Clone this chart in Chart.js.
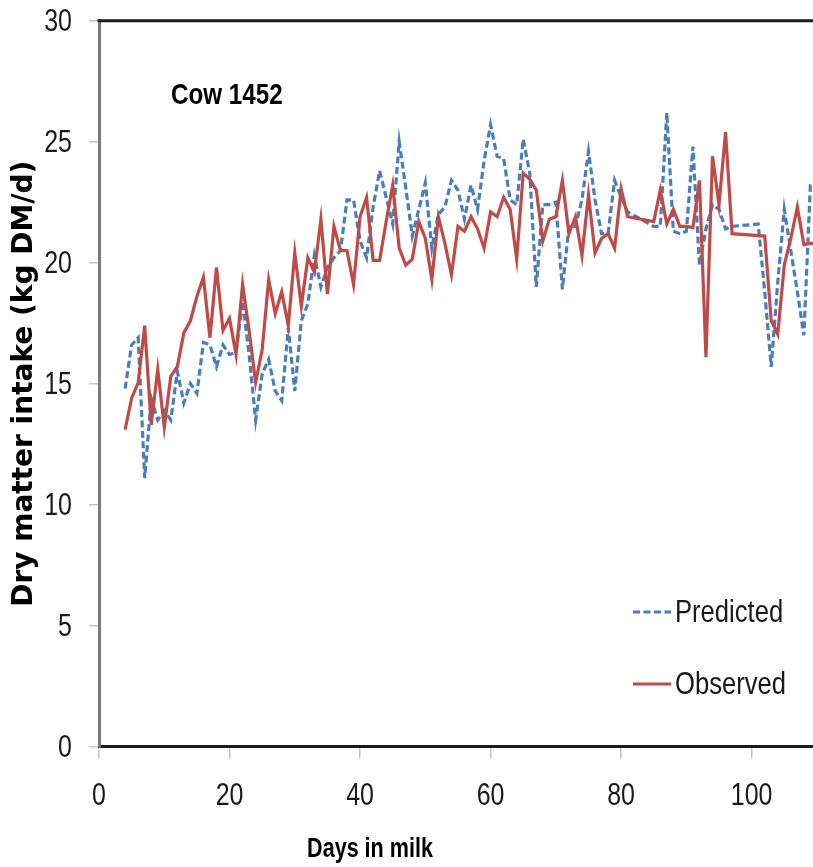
<!DOCTYPE html>
<html>
<head>
<meta charset="utf-8">
<title>Cow 1452 - Dry matter intake</title>
<script src="https://cdn.jsdelivr.net/npm/chart.js@4.4.1/dist/chart.umd.min.js"></script>
<style>
    html, body { margin: 0; padding: 0; background: #fff; }
    canvas { display: block; }
</style>
</head>
<body>
<canvas id="dmiChart" width="813" height="867"></canvas>
<script>
// Values (days in milk, kg DM/d)
const predDays = [4, 5, 6, 7, 8, 9, 10, 11, 12, 13, 14, 15, 16, 17, 18, 19, 20, 21, 22, 23, 24, 25, 26, 27,
    28, 29, 30, 31, 32, 33, 34, 35, 36, 37, 38, 39, 40, 41, 42, 43, 44, 45, 46, 47, 48, 49, 50, 51, 52,
    53, 54, 55, 56, 57, 58, 59, 60, 61, 62, 63, 64, 65, 66, 67, 68, 69, 70, 71, 72, 73, 74, 75, 76, 77,
    78, 79, 80, 81, 85, 86, 87, 88, 89, 90, 91, 92, 93, 94, 95, 96, 97, 101, 102, 103, 104, 105, 106,
    107, 108, 109, 110];
const predDMI = [14.8, 16.6, 16.9, 11.1, 14.4, 13.5, 13.9, 13.5, 15.5, 14.2, 15.0, 14.6, 16.7, 16.6, 15.7,
    16.6, 16.2, 16.3, 18.4, 16.2, 13.5, 15.4, 16.0, 14.7, 14.3, 17.3, 14.7, 17.6, 18.3, 20.3, 19.0, 19.8,
    20.2, 20.5, 22.6, 22.6, 20.9, 20.2, 22.3, 23.8, 22.7, 21.6, 25.0, 23.1, 21.1, 22.2, 23.3, 20.6, 22.0,
    22.3, 23.4, 23.0, 21.8, 23.2, 22.2, 24.2, 25.7, 24.4, 24.3, 22.6, 22.4, 25.1, 23.7, 19.0, 22.4, 22.4,
    22.5, 18.9, 21.5, 21.5, 22.6, 24.6, 22.6, 21.2, 21.2, 23.4, 22.7, 22.1, 21.5, 21.5, 26.2, 21.3, 21.2,
    21.3, 24.8, 19.9, 21.4, 22.4, 22.2, 21.4, 21.5, 21.6, 18.8, 15.7, 19.2, 22.2, 20.5, 18.8, 17.0, 23.2,
    23.3];

const obsDays = [4, 5, 6, 7, 8, 9, 10, 11, 12, 13, 14, 15, 16, 17, 18, 19, 20, 21, 22, 23, 24, 25, 26, 27,
    28, 29, 30, 31, 32, 33, 34, 35, 36, 37, 38, 39, 40, 41, 42, 43, 44, 45, 46, 47, 48, 49, 50, 51, 52,
    53, 54, 55, 56, 57, 58, 59, 60, 61, 62, 63, 64, 65, 66, 67, 68, 69, 70, 71, 72, 73, 74, 75, 76, 77,
    78, 79, 80, 81, 85, 86, 87, 88, 89, 90, 91, 92, 93, 94, 95, 96, 97, 102, 103, 104, 105, 106, 107,
    108, 109, 110];
const obsDMI = [13.1, 14.4, 15.05, 17.4, 13.3, 15.6, 13.2, 15.3, 15.7, 17.1, 17.6, 18.6, 19.4, 16.9, 19.8,
    17.2, 17.7, 16.2, 19.1, 17.2, 15.05, 16.4, 19.3, 17.9, 18.8, 17.4, 20.4, 18.2, 20.2, 19.6, 21.8, 18.7,
    21.5, 20.5, 20.5, 19.1, 21.9, 22.7, 20.1, 20.1, 21.7, 23.2, 20.6, 19.9, 20.15, 21.7, 21.0, 19.3, 21.9,
    20.8, 19.5, 21.5, 21.3, 21.9, 21.4, 20.6, 22.1, 21.9, 22.7, 22.2, 20.15, 23.7, 23.45, 23.0, 20.9,
    21.8, 21.9, 23.4, 21.2, 21.9, 20.3, 22.8, 20.4, 21.0, 21.2, 20.6, 23.05, 21.9, 21.7, 23.0, 21.6,
    22.2, 21.5, 21.5, 21.45, 23.4, 16.1, 24.4, 22.4, 25.4, 21.2, 21.1, 17.6, 17.05, 19.9, 21.0, 22.3,
    20.75, 20.8, 20.8];

const xTicks = [0, 20, 40, 60, 80, 100];
const yTicks = [0, 5, 10, 15, 20, 25, 30];
const seriesNames = ['Predicted', 'Observed'];

const BLUE = '#4a7ebb';
const RED = '#be4b48';
const DASH = [7, 3.5];
const SANS = "'Liberation Sans', Arial, sans-serif";

const toPoints = (days, values) => days.map((d, i) => ({ x: d, y: values[i] }));

// The figure uses a narrow font; squeeze Liberation Sans horizontally to get close
function narrowText(ctx, text, x, y, font, squeeze, align) {
    ctx.save();
    ctx.font = font;
    ctx.textBaseline = 'middle';
    ctx.textAlign = align;
    ctx.translate(x, y);
    ctx.scale(squeeze, 1);
    ctx.fillText(text, 0, 0);
    ctx.restore();
}

// Tick labels, top frame line, "Cow 1452", x title and the in-plot legend
const decorations = {
    id: 'decorations',
    afterDraw(chart) {
        const { ctx, chartArea, scales } = chart;
        ctx.save();

        ctx.strokeStyle = '#1a1a1a';
        ctx.lineWidth = 3;
        ctx.beginPath();
        ctx.moveTo(chartArea.left - 1.5, chartArea.top);
        ctx.lineTo(chartArea.right, chartArea.top);
        ctx.stroke();

        ctx.fillStyle = '#1a1a1a';
        const tickFont = '32px ' + SANS;
        yTicks.forEach(v => {
            narrowText(ctx, String(v), 72, scales.y.getPixelForValue(v) + 1, tickFont, 0.78, 'right');
        });
        xTicks.forEach(v => {
            narrowText(ctx, String(v), scales.x.getPixelForValue(v), 796, tickFont, 0.78, 'center');
        });

        ctx.fillStyle = '#000';
        narrowText(ctx, 'Cow 1452', 171, 96, 'bold 29.5px ' + SANS, 0.82, 'left');
        narrowText(ctx, 'Days in milk', 370, 849, 'bold 28px ' + SANS, 0.77, 'center');

        const items = [
            { label: seriesNames[0], color: BLUE, dash: DASH, y: 612 },
            { label: seriesNames[1], color: RED, dash: [], y: 684 }
        ];
        items.forEach(item => {
            ctx.strokeStyle = item.color;
            ctx.lineWidth = 3;
            ctx.setLineDash(item.dash);
            ctx.beginPath();
            ctx.moveTo(633, item.y);
            ctx.lineTo(671, item.y);
            ctx.stroke();
            ctx.setLineDash([]);
            ctx.fillStyle = '#1a1a1a';
            narrowText(ctx, item.label, 675, item.y + 1, '32px ' + SANS, 0.8, 'left');
        });

        ctx.restore();
    }
};

new Chart(document.getElementById('dmiChart'), {
    type: 'line',
    data: {
        datasets: [
            {
                label: seriesNames[0],
                data: toPoints(predDays, predDMI),
                borderColor: BLUE,
                borderWidth: 3.2,
                borderDash: DASH,
                pointRadius: 0,
                tension: 0,
                order: 2
            },
            {
                label: seriesNames[1],
                data: toPoints(obsDays, obsDMI),
                borderColor: RED,
                borderWidth: 3.2,
                pointRadius: 0,
                tension: 0,
                order: 1
            }
        ]
    },
    options: {
        responsive: false,
        animation: false,
        layout: { padding: { top: 20.7, right: 0, left: 0, bottom: 0 } },
        plugins: {
            legend: { display: false },
            tooltip: { enabled: false }
        },
        scales: {
            x: {
                type: 'linear',
                min: 0,
                max: 109.4,
                afterBuildTicks: scale => { scale.ticks = xTicks.map(v => ({ value: v })); },
                afterFit: scale => {
                    scale.height = 120.3;
                    scale.paddingLeft = 0;
                    scale.paddingRight = 0;
                },
                grid: { drawOnChartArea: false, tickLength: 12, color: '#c4c4c4', lineWidth: 1.5 },
                border: { color: '#1a1a1a', width: 3 },
                ticks: { display: false }
            },
            y: {
                min: 0,
                max: 30,
                afterBuildTicks: scale => { scale.ticks = yTicks.map(v => ({ value: v })); },
                afterFit: scale => {
                    scale.width = 99;
                    scale.paddingTop = 0;
                    scale.paddingBottom = 0;
                },
                grid: { drawOnChartArea: false, tickLength: 10, color: '#c4c4c4', lineWidth: 1.5 },
                border: { color: '#7a7a7a', width: 3 },
                ticks: { display: false },
                title: {
                    display: true,
                    text: 'Dry matter intake (kg DM/d)',
                    color: '#000',
                    font: { family: "'DejaVu Sans', sans-serif", size: 28, weight: 'bold' },
                    padding: { top: 8, bottom: 0 }
                }
            }
        }
    },
    plugins: [decorations]
});
</script>
</body>
</html>
